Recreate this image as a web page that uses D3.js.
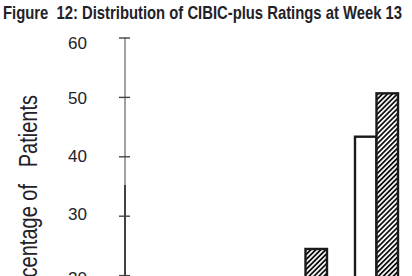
<!DOCTYPE html>
<html>
<head>
<meta charset="utf-8">
<script src="https://cdn.jsdelivr.net/npm/d3@7"></script>
<style>
  html, body { margin: 0; padding: 0; background: #ffffff; overflow: hidden; }
  svg { display: block; }
  text { white-space: pre; }
</style>
</head>
<body>
<svg id="svg-container"></svg>
<script>
/////////////// Data ///////////////
// CIBIC-plus rating categories (only the left part of the chart is in view)
const categories = ["Marked improvement", "Moderate improvement", "Minimal improvement",
  "No change", "Minimal worsening", "Moderate worsening", "Marked worsening"];
const series = ["Placebo", "Drug"];
// percentage of patients (bars under 20 are cut off, estimated)
const placeboValues = [1, 5, 16, 43.3, 20, 8, 2];
const drugValues = [2, 9, 24.4, 50.6, 12, 3, 1];
const yTicks = [0, 10, 20, 30, 40, 50, 60];

/////////////// Constants ///////////////
const width = 412;
const height = 276;
const textColour = "#222228";

const svg = d3.select("#svg-container")
  .attr("width", width)
  .attr("height", height);

/// hatch pattern for the drug bars ///
const defs = svg.append("defs");
const pattern = defs.append("pattern")
  .attr("id", "hatch")
  .attr("patternUnits", "userSpaceOnUse")
  .attr("width", 3.5)
  .attr("height", 3.5)
  .attr("patternTransform", "rotate(45)");
pattern.append("rect").attr("width", 3.5).attr("height", 3.5).attr("fill", "#ffffff");
pattern.append("rect").attr("width", 1.8).attr("height", 3.5).attr("fill", "#111111");

/////////////// Scales ///////////////
const y = d3.scaleLinear().domain([0, 60]).range([393.9, 37.5]);
// the printed labels drift a little from the ticks (scan distortion)
const yLabel = d3.scaleLinear()
  .domain([0, 20, 30, 40, 50, 60])
  .range([405, 277.5, 213.8, 155, 97.8, 42.8]);

const step = 71;
const x = d3.scaleBand()
  .domain(categories)
  .range([142, 142 + step * categories.length - 28])
  .paddingInner(28 / step)
  .paddingOuter(0);
const xSub = d3.scaleBand().domain(series).range([0, x.bandwidth()]);

/////////////// Title ///////////////
svg.append("text")
  .attr("x", 3)
  .attr("y", 18.5)
  .attr("font-family", "'Liberation Sans Narrow', 'Arial Narrow', 'Liberation Sans', sans-serif")
  .attr("font-weight", "bold")
  .attr("font-size", 19)
  .attr("fill", textColour)
  .attr("textLength", 399)
  .attr("lengthAdjust", "spacingAndGlyphs")
  .text("Figure  12: Distribution of CIBIC-plus Ratings at Week 13");

/////////////// Y axis ///////////////
const axisX = 125;
const axisG = svg.append("g").attr("transform", `translate(${axisX},0)`);
// axis line: lighter on top, darker lower down (like the print)
axisG.append("line")
  .attr("x1", 0).attr("x2", 0)
  .attr("y1", y(60)).attr("y2", 185)
  .attr("stroke", "#8a8a8a").attr("stroke-width", 1.6);
axisG.append("line")
  .attr("x1", 0).attr("x2", 0)
  .attr("y1", 185).attr("y2", y(0))
  .attr("stroke", "#111111").attr("stroke-width", 1.6);

axisG.call(d3.axisLeft(y).tickValues(yTicks).tickSize(6).tickFormat(d3.format("d")))
  .call(g => g.select(".domain").remove())
  .call(g => g.selectAll(".tick line")
    .attr("x1", -6).attr("x2", 5)
    .attr("stroke", "#444444").attr("stroke-width", 1.4))
  .call(g => g.selectAll(".tick text")
    .attr("x", 87 - axisX)
    .attr("y", d => yLabel(d) - y(d) + 6)
    .attr("dy", null)
    .attr("fill", textColour)
    .attr("font-family", "'Liberation Sans', Arial, sans-serif")
    .attr("font-size", 17));

// y axis title (cut off on the left edge of the picture)
svg.append("text")
  .attr("transform", "translate(36.5, 95) rotate(-90) scale(0.77, 1)")
  .attr("text-anchor", "end")
  .attr("font-family", "'Liberation Sans', Arial, sans-serif")
  .attr("font-size", 26)
  .attr("fill", textColour)
  .text("Percentage of   Patients");

/////////////// Bars ///////////////
const barData = categories.flatMap((c, i) => [
  { category: c, series: "Placebo", value: placeboValues[i] },
  { category: c, series: "Drug", value: drugValues[i] },
]);

svg.append("g")
  .selectAll("rect")
  .data(barData)
  .join("rect")
    .attr("x", d => x(d.category) + xSub(d.series))
    .attr("y", d => y(d.value))
    .attr("width", xSub.bandwidth())
    .attr("height", d => y(0) - y(d.value))
    .attr("fill", d => d.series === "Drug" ? "url(#hatch)" : "#ffffff")
    .attr("stroke", "#1a1a1a")
    .attr("stroke-width", 2.4);
</script>
</body>
</html>
